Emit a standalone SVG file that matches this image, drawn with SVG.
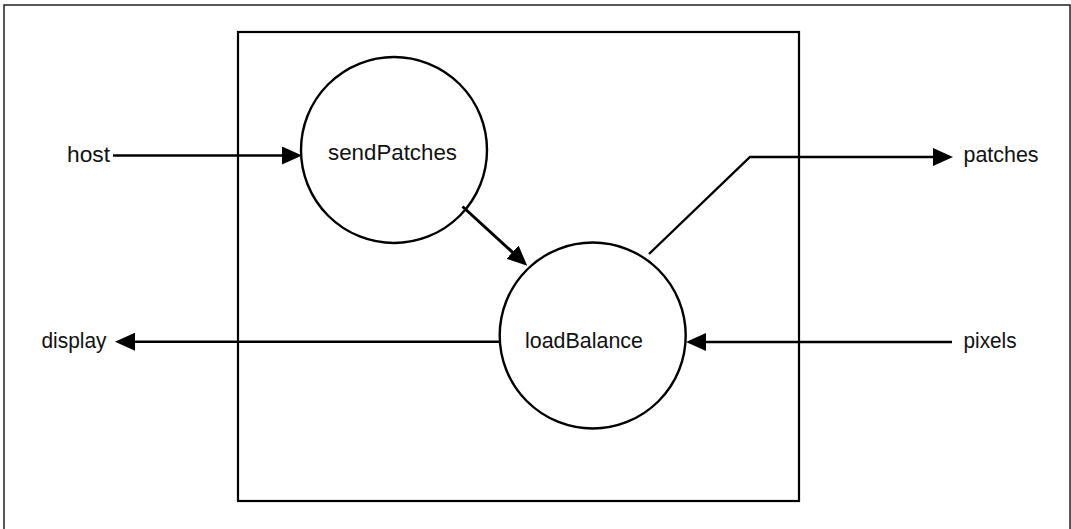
<svg xmlns="http://www.w3.org/2000/svg" width="1071" height="529" viewBox="0 0 1071 529">
<defs>
<marker id="ah" markerUnits="userSpaceOnUse" markerWidth="20" markerHeight="18" refX="16" refY="9" orient="auto" viewBox="0 0 20 18">
<path d="M0,0 L20,9 L0,18 z" fill="#000"/>
</marker>
</defs>
<style>
.lbl{font-family:"Liberation Sans",Arial,Helvetica,sans-serif;font-size:22px;fill:#111;}
.node{fill:none;stroke:#000;stroke-width:2.4;}
.con{fill:none;stroke:#000;stroke-width:2.4;}
.frame{fill:none;stroke:#222;stroke-width:1.5;}
</style>
<rect width="1071" height="529" fill="#fff"/>
<path class="frame" d="M4,535 L4,5 L1070,5 L1070,535"/>
<rect id="process" x="238" y="32" width="561" height="469" fill="none" stroke="#000" stroke-width="2.2"/>
<g id="connectors">
<line class="con" x1="113" y1="155.5" x2="298" y2="155.5" marker-end="url(#ah)"/>
<line class="con" x1="462.5" y1="206.5" x2="524.3" y2="263" marker-end="url(#ah)" style="stroke-width:3"/>
<polyline class="con" points="649,254 750,157 949,157" marker-end="url(#ah)" style="stroke-linejoin:miter"/>
<line class="con" x1="499" y1="341.7" x2="119" y2="341.7" marker-end="url(#ah)"/>
<line class="con" x1="952" y1="342" x2="690" y2="342" marker-end="url(#ah)"/>
</g>
<g id="sendPatches">
<circle class="node" cx="394" cy="150" r="93"/>
<text class="lbl" x="328" y="160" textLength="129" lengthAdjust="spacingAndGlyphs">sendPatches</text>
</g>
<g id="loadBalance">
<circle class="node" cx="592.7" cy="335.5" r="93"/>
<text class="lbl" x="525" y="347.5" textLength="118" lengthAdjust="spacingAndGlyphs">loadBalance</text>
</g>
<g id="host">
<text class="lbl" x="67" y="162" textLength="43" lengthAdjust="spacingAndGlyphs">host</text>
</g>
<g id="display">
<text class="lbl" x="41.5" y="348" textLength="65" lengthAdjust="spacingAndGlyphs">display</text>
</g>
<g id="patches">
<text class="lbl" x="963.5" y="162" textLength="75" lengthAdjust="spacingAndGlyphs">patches</text>
</g>
<g id="pixels">
<text class="lbl" x="963.5" y="348" textLength="53" lengthAdjust="spacingAndGlyphs">pixels</text>
</g>
</svg>
